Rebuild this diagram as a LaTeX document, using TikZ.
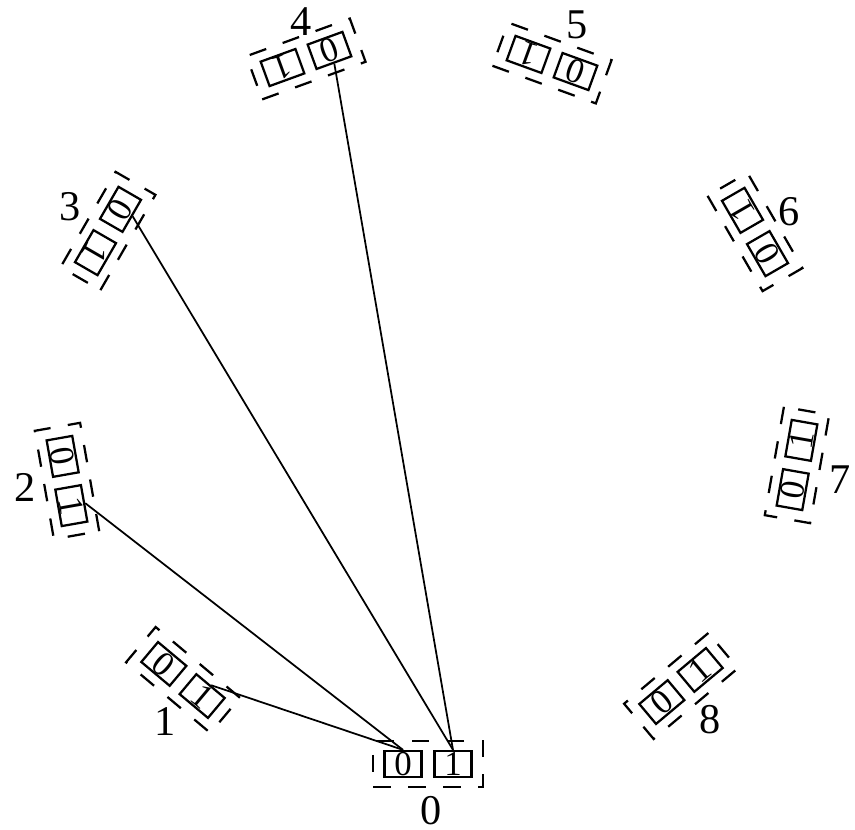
\documentclass[tikz,border=0pt]{standalone}
\usepackage{fontspec}
\setmainfont{Liberation Serif}
\usepackage{tikz}

\begin{document}
\begin{tikzpicture}[x=0.4bp, y=0.4bp, line width=0.7bp,
        bit/.style={draw, rectangle, line width=0.9bp, minimum width=14.8bp, minimum height=10.4bp, inner sep=0pt, font=\fontsize{14}{14}\selectfont},
        pair/.style={draw, rectangle, line width=0.9bp, dash pattern=on 7bp off 7bp, minimum width=44bp, minimum height=18.4bp, inner sep=0pt},
        tag/.style={inner sep=0pt, font=\fontsize{17}{17}\selectfont}]
        \useasboundingbox (0,0) rectangle (855,830);

        \begin{scope}[shift={(428,66)}, rotate=0, transform shape]
            \node (pair0) [pair] at (0,0) {};
            \node (zero0) [bit] at (-25,0) {0};
            \node (one0) [bit] at (25,0) {1};
        \end{scope}
        \begin{scope}[shift={(183,150)}, rotate=-40, transform shape]
            \node (pair1) [pair] at (0,0) {};
            \node (zero1) [bit] at (-25,0) {0};
            \node (one1) [bit] at (25,0) {1};
        \end{scope}
        \begin{scope}[shift={(67,349)}, rotate=-80, transform shape]
            \node (pair2) [pair] at (0,0) {};
            \node (zero2) [bit] at (-25,0) {0};
            \node (one2) [bit] at (25,0) {1};
        \end{scope}
        \begin{scope}[shift={(108,599)}, rotate=-120, transform shape]
            \node (pair3) [pair] at (0,0) {};
            \node (zero3) [bit] at (-25,0) {0};
            \node (one3) [bit] at (25,0) {1};
        \end{scope}
        \begin{scope}[shift={(306,771)}, rotate=-160, transform shape]
            \node (pair4) [pair] at (0,0) {};
            \node (zero4) [bit] at (-25,0) {0};
            \node (one4) [bit] at (25,0) {1};
        \end{scope}
        \begin{scope}[shift={(552,767)}, rotate=160, transform shape]
            \node (pair5) [pair] at (0,0) {};
            \node (zero5) [bit] at (-25,0) {0};
            \node (one5) [bit] at (25,0) {1};
        \end{scope}
        \begin{scope}[shift={(755,598)}, rotate=120, transform shape]
            \node (pair6) [pair] at (0,0) {};
            \node (zero6) [bit] at (-25,0) {0};
            \node (one6) [bit] at (25,0) {1};
        \end{scope}
        \begin{scope}[shift={(797,365)}, rotate=80, transform shape]
            \node (pair7) [pair] at (0,0) {};
            \node (zero7) [bit] at (-25,0) {0};
            \node (one7) [bit] at (25,0) {1};
        \end{scope}
        \begin{scope}[shift={(681,144)}, rotate=40, transform shape]
            \node (pair8) [pair] at (0,0) {};
            \node (zero8) [bit] at (-25,0) {0};
            \node (one8) [bit] at (25,0) {1};
        \end{scope}

        \node (label0) [tag] at (431,19) {0};
        \node (label1) [tag] at (165,108) {1};
        \node (label2) [tag] at (25,343) {2};
        \node (label3) [tag] at (70,623) {3};
        \node (label4) [tag] at (301,808) {4};
        \node (label5) [tag] at (577,805) {5};
        \node (label6) [tag] at (789,618) {6};
        \node (label7) [tag] at (840,350) {7};
        \node (label8) [tag] at (710,110) {8};

        \draw (zero0.north) -- (one1.north);
        \draw (zero0.north) -- (one2.north);
        \draw (one0.north) -- (zero3.north);
        \draw (one0.north) -- (zero4.north);
    \end{tikzpicture}
\end{document}
